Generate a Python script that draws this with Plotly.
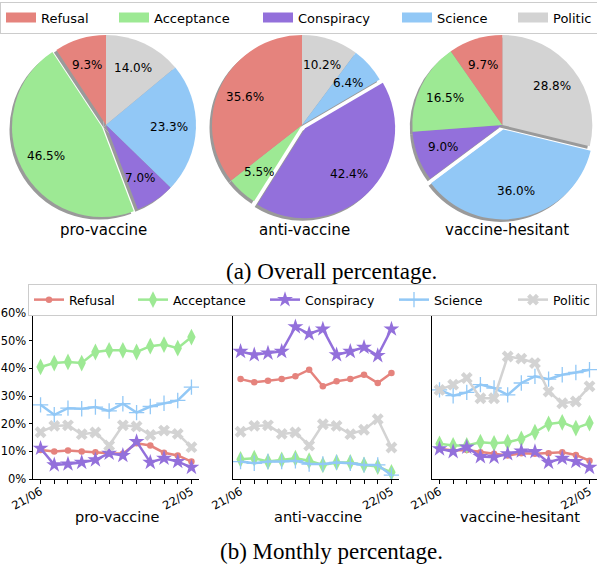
import numpy as np
import plotly.graph_objects as go

W, H = 597, 566
FONT = "DejaVu Sans"

categories = ["Refusal", "Acceptance", "Conspiracy", "Science", "Politic"]
colors = ["#E5837D", "#9DE994", "#9370DB", "#92C8F6", "#D3D3D3"]
groups = ["pro-vaccine", "anti-vaccine", "vaccine-hesitant"]

# (a) overall percentage per group (order follows categories)
overall_pro = [9.3, 46.5, 7.0, 23.3, 14.0]
overall_anti = [35.6, 5.5, 42.4, 6.4, 10.2]
overall_hesitant = [9.7, 16.5, 9.0, 36.0, 28.8]
exploded = ["Acceptance", "Conspiracy", "Science"]

# (b) monthly percentage
months = ["21/06", "21/07", "21/08", "21/09", "21/10", "21/11",
          "21/12", "22/01", "22/02", "22/03", "22/04", "22/05"]
shown_month_labels = ["21/06", "22/05"]

pro_refusal = [10.5, 9.9, 10.3, 9.9, 9.7, 9.3, 9.1, 12.9, 12.1, 9.5, 8.5, 6.3]
pro_acceptance = [40.5, 41.9, 42.3, 41.9, 45.9, 46.5, 46.5, 45.9, 48.0, 48.6, 47.3, 51.3]
pro_conspiracy = [11.1, 5.1, 5.4, 6.0, 6.9, 9.3, 8.5, 13.5, 6.0, 7.5, 6.3, 4.2]
pro_science = [26.8, 23.2, 25.6, 25.4, 26.0, 24.6, 27.2, 24.0, 26.2, 27.4, 28.4, 33.2]
pro_politic = [16.9, 19.2, 19.4, 16.2, 16.8, 12.1, 19.4, 19.0, 15.9, 17.5, 16.3, 11.5]

anti_refusal = [36.1, 35.0, 35.5, 36.1, 37.1, 39.5, 33.5, 35.3, 36.1, 37.7, 34.7, 38.3]
anti_acceptance = [7.1, 7.5, 6.3, 6.9, 7.5, 6.6, 5.1, 6.0, 6.0, 5.1, 4.5, 2.4]
anti_conspiracy = [46.1, 44.9, 45.5, 46.1, 55.0, 52.5, 54.2, 44.9, 46.1, 47.6, 44.6, 54.2]
anti_science = [6.3, 5.7, 6.3, 6.3, 6.6, 5.4, 5.4, 6.0, 5.7, 5.1, 5.1, 1.4]
anti_politic = [17.1, 19.2, 19.4, 16.3, 16.8, 12.1, 19.8, 19.2, 16.2, 17.8, 21.6, 11.4]

hes_refusal = [10.9, 10.3, 10.5, 9.7, 9.1, 8.5, 9.3, 9.1, 9.3, 9.7, 8.7, 6.6]
hes_acceptance = [12.7, 12.1, 12.1, 13.3, 12.9, 13.3, 14.5, 16.9, 19.9, 20.5, 18.4, 20.2]
hes_conspiracy = [10.9, 9.9, 11.5, 8.1, 7.9, 9.1, 10.1, 9.9, 6.0, 7.5, 6.3, 4.2]
hes_science = [32.2, 30.1, 31.3, 34.1, 32.9, 30.4, 34.7, 37.1, 36.1, 37.7, 38.5, 39.5]
hes_politic = [32.2, 34.1, 36.5, 29.2, 29.2, 44.3, 43.5, 41.9, 31.6, 27.4, 28.0, 33.5]

y_ticks = [0, 10, 20, 30, 40, 50, 60]

captions = ["(a) Overall percentage.", "(b) Monthly percentage."]

# ---------------------------------------------------------------- styles
markers = [
    dict(symbol="circle", size=6.5),
    dict(symbol="diamond-tall", size=12),
    dict(symbol="star", size=12),
    dict(symbol="cross-thin", size=11, line=dict(width=1.3)),
    dict(symbol="x", size=10.5),
]

fig = go.Figure()
annotations = []


def px2x(px):
    return px / W


def px2y(py):
    return 1 - py / H


# ---------------------------------------------------------------- pies
R = 90
PULL = 0.05
SH = 2.5  # shadow offset (px)
HALF = R * (1 + PULL)
pie_centers = [(106, 125), (302, 125), (min(506, W - HALF - 0.2), 125)]
pie_title_x = [103, 304, 507]

for vals, (cx, cy), grp, exp, tx in zip(
        [overall_pro, overall_anti, overall_hesitant], pie_centers, groups,
        exploded, pie_title_x):
    pulls = [PULL if c == exp else 0 for c in categories]

    def dom(dx, dy):
        return dict(x=[max(0, px2x(cx + dx - HALF)), min(1, px2x(cx + dx + HALF))],
                    y=[px2y(cy + dy + HALF), px2y(cy + dy - HALF)])

    # slices run counter-clockwise from 12 o'clock in category order,
    # i.e. clockwise from 12 o'clock in reversed order
    common = dict(labels=categories[::-1], values=vals[::-1], sort=False,
                  direction="clockwise", rotation=0, pull=pulls[::-1],
                  textinfo="none", showlegend=False, hoverinfo="skip")
    fig.add_trace(go.Pie(domain=dom(-SH, SH),
                         marker=dict(colors=["#9a9a9a"] * len(vals)), **common))
    fig.add_trace(go.Pie(domain=dom(0, 0),
                         marker=dict(colors=colors[::-1]), **common))

    total = sum(vals)
    cum = 0.0
    for v, p in zip(vals, pulls):
        mid = np.deg2rad(90 + 360 * (cum + v / 2) / total)
        cum += v
        ox = cx + p * R * np.cos(mid)
        oy = cy - p * R * np.sin(mid)
        lx = ox + 0.7 * R * np.cos(mid)
        ly = oy - 0.7 * R * np.sin(mid)
        annotations.append(dict(
            x=px2x(lx), y=px2y(ly), xref="paper", yref="paper",
            text=f"{v:.1f}%", showarrow=False, xanchor="center",
            yanchor="middle", font=dict(family=FONT, size=12, color="black")))
    annotations.append(dict(
        x=px2x(tx), y=px2y(230), xref="paper", yref="paper", text=grp,
        showarrow=False, xanchor="center", yanchor="middle",
        font=dict(family=FONT, size=15, color="black")))

# top legend (category patches)
top_widths = [68, 99, 94, 71, None]
for cat, col, lw in zip(categories, colors, top_widths):
    kw = dict(legendwidth=lw) if lw else {}
    fig.add_trace(go.Scatter(
        x=[None], y=[None], mode="lines", name=cat,
        line=dict(color=col, width=10), legend="legend", showlegend=True,
        xaxis="x", yaxis="y", hoverinfo="skip", **kw))

# ---------------------------------------------------------------- lines
series = [
    [pro_refusal, pro_acceptance, pro_conspiracy, pro_science, pro_politic],
    [anti_refusal, anti_acceptance, anti_conspiracy, anti_science, anti_politic],
    [hes_refusal, hes_acceptance, hes_conspiracy, hes_science, hes_politic],
]
x_domains = [(33, 199), (233, 399), (432, 597)]
line_title_x = [117, 318, 520]
y_top, y_bot = 313, 479
bottom_widths = [59, 87, 84, 74, None]

for i, (grp_series, (x0, x1)) in enumerate(zip(series, x_domains)):
    sfx = "" if i == 0 else str(i + 1)
    for j, (cat, col, mk, vals) in enumerate(zip(categories, colors, markers, grp_series)):
        mkd = dict(mk)
        mkd["color"] = col
        if "line" in mkd:
            mkd["line"] = dict(width=mkd["line"]["width"], color=col)
        kw = {}
        if i == 0 and bottom_widths[j]:
            kw["legendwidth"] = bottom_widths[j]
        fig.add_trace(go.Scatter(
            x=months, y=vals, mode="lines+markers", name=cat,
            line=dict(color=col, width=2.5), marker=mkd,
            xaxis="x" + sfx, yaxis="y" + sfx, legend="legend2",
            showlegend=(i == 0), hoverinfo="skip", **kw))

    fig.update_layout(**{
        "xaxis" + sfx: dict(
            domain=[px2x(x0), min(1, px2x(x1))], anchor="y" + sfx, type="category",
            range=[-0.55, 11.55], tickvals=months,
            ticktext=[m if m in shown_month_labels else "" for m in months],
            tickangle=-30, ticks="outside", ticklen=3.5, tickwidth=1,
            ticklabelstandoff=-3,
            tickcolor="black", showline=True, linecolor="black", linewidth=1,
            showgrid=False, zeroline=False, fixedrange=True,
            tickfont=dict(family=FONT, size=11.5, color="black")),
        "yaxis" + sfx: dict(
            domain=[px2y(y_bot), px2y(y_top)], anchor="x" + sfx,
            range=[0, 60], tickvals=y_ticks,
            ticktext=[f"{t}%" for t in y_ticks], showticklabels=(i == 0),
            ticks="outside" if i == 0 else "", ticklen=3.5, tickwidth=1,
            tickcolor="black", showline=True, linecolor="black", linewidth=1,
            showgrid=False, zeroline=False, fixedrange=True,
            tickfont=dict(family=FONT, size=11.5, color="black")),
    })
    annotations.append(dict(
        x=px2x(line_title_x[i]), y=px2y(517), xref="paper", yref="paper",
        text=groups[i], showarrow=False, xanchor="center", yanchor="middle",
        font=dict(family=FONT, size=14.5, color="black")))

# captions
for cap, cy in zip(captions, [271, 551]):
    annotations.append(dict(
        x=px2x(331), y=px2y(cy), xref="paper", yref="paper", text=cap,
        showarrow=False, xanchor="center", yanchor="middle",
        font=dict(family="Liberation Serif, Times New Roman, serif", size=23,
                  color="black")))

fig.update_layout(
    width=W, height=H, template="none",
    margin=dict(l=0, r=0, t=0, b=0),
    paper_bgcolor="white", plot_bgcolor="rgba(0,0,0,0)",
    font=dict(family=FONT, color="black"),
    hovermode=False,
    annotations=annotations,
    legend=dict(orientation="h", x=px2x(4), y=px2y(1.5), xanchor="left",
                yanchor="top", bordercolor="#cccccc", borderwidth=1,
                bgcolor="white", font=dict(family=FONT, size=13, color="black")),
    legend2=dict(orientation="h", x=px2x(34), y=px2y(284), xanchor="left",
                 yanchor="top", bordercolor="#cccccc", borderwidth=1,
                 bgcolor="white", font=dict(family=FONT, size=12.5, color="black")),
)

fig.write_html("out.html", config=dict(displayModeBar=False),
               post_script="document.body.style.margin='0';"
                           "document.body.style.overflow='hidden';")
